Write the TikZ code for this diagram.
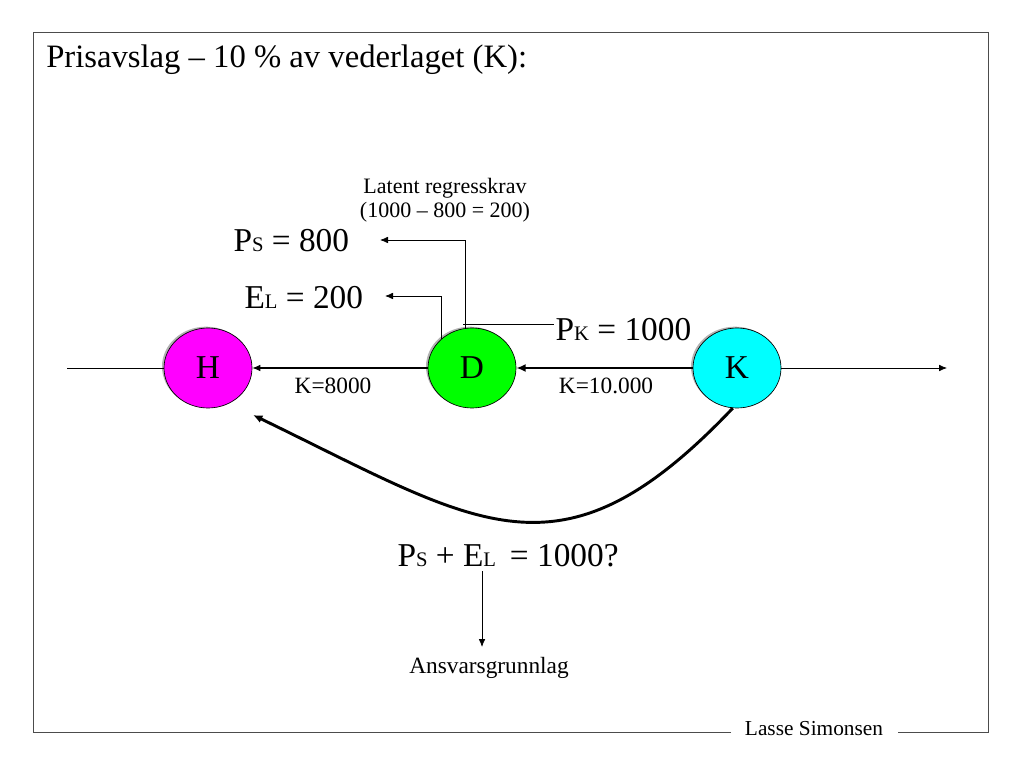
\documentclass[tikz,border=0pt]{standalone}
\usepackage{fontspec}
\setmainfont{Liberation Serif}
\usetikzlibrary{arrows.meta,shapes.geometric,shadows}
\definecolor{hcol}{RGB}{255,0,255}
\definecolor{dcol}{RGB}{0,255,0}
\definecolor{kcol}{RGB}{0,255,255}
\newcommand{\smc}[1]{{\fontsize{15.5}{15.5}\selectfont #1}}
\begin{document}
\begin{tikzpicture}[x=0.75pt,y=-0.75pt,
  party/.style={ellipse,draw=black,line width=0.5pt,minimum width=66pt,minimum height=60pt,inner sep=0pt,
    drop shadow={shadow xshift=-1.5pt,shadow yshift=1pt,opacity=0.3,fill=black}},
  plabel/.style={font=\fontsize{25}{25}\selectfont},
  arr/.style={-{Latex[length=6pt,width=5pt]},line width=0.8pt},
  thin/.style={line width=0.6pt},
  big/.style={font=\fontsize{25}{25}\selectfont,inner sep=1pt},
  mid/.style={font=\fontsize{17.5}{17.5}\selectfont,inner sep=1pt},
  small/.style={font=\fontsize{16.5}{18}\selectfont,inner sep=1pt,align=center}]
\useasboundingbox (0,0) rectangle (1023,762);
% frame
\coordinate (f1) at (33,732);
\coordinate (f2) at (33,32);
\coordinate (f3) at (988,32);
\coordinate (f4) at (988,732);
\node[font=\fontsize{16}{16}\selectfont,inner sep=0pt] (sig) at (814,729) {Lasse Simonsen};
\coordinate (g1) at (731,732);
\coordinate (g2) at (898,732);
\draw[line width=0.6pt,black!70] (g1) -- (f1) -- (f2) -- (f3) -- (f4) -- (g2);
% title
\node[anchor=west,font=\fontsize{24.5}{24.5}\selectfont,inner sep=0pt] (title) at (46,60) {Prisavslag -- 10 \% av vederlaget (K):};
% parties
\node[party,fill=hcol] (H) at (208,368) {};
\node[party,fill=dcol] (D) at (472,368) {};
\node[party,fill=kcol] (K) at (737,368) {};
\node[plabel] (Ht) at (H.center) {H};
\node[plabel] (Dt) at (D.center) {D};
\node[plabel] (Kt) at (K.center) {K};
% horizontal lines
\coordinate (left) at (67,368);
\coordinate (right) at (947,368);
\draw[thin] (left) -- (H.west);
\draw[arr,line width=0.6pt] (K.east) -- (right);
\draw[arr] (D.west) -- (H.east);
\draw[arr,line width=2.2pt,-{Latex[length=7pt,width=6pt]}] (K.west) -- (D.east);
\node[mid] (k8) at (333,386) {K=8000};
\node[mid] (k10) at (606,386) {K=10.000};
% texts above
\node[small] (lat) at (445,200) {Latent regresskrav\\(1000 -- 800 = 200)};
\node[big,anchor=west] (ps) at (232,241) {P\smc{S} = 800};
\node[big,anchor=west] (el) at (243,298) {E\smc{L} = 200};
\node[big,anchor=west] (pk) at (554,330) {P\smc{K} = 1000};
\coordinate (psTip) at (380,240);
\coordinate (elTip) at (385,296);
\coordinate (j) at (463,324);
\draw[arr,line width=0.6pt] (D.100) |- (psTip);
\draw[arr,line width=0.6pt] (D.136) |- (elTip);
\draw[thin] (j) -- (j -| pk.west);
% curve
\coordinate (hEnd) at (253,415);
\draw[line width=2.2pt,-{Latex[length=7pt,width=6pt]}] (K.-96) .. controls (560,590) and (480,525) .. (hEnd);
% bottom
\node[big,anchor=west] (eq) at (396,556) {P\smc{S} + E\smc{L}\, = 1000?};
\node[mid] (ans) at (489,668) {Ansvarsgrunnlag};
\coordinate (a1) at (482,571);
\coordinate (a2) at (482,647);
\draw[arr,line width=0.6pt] (a1) -- (a2);
\end{tikzpicture}
\end{document}
